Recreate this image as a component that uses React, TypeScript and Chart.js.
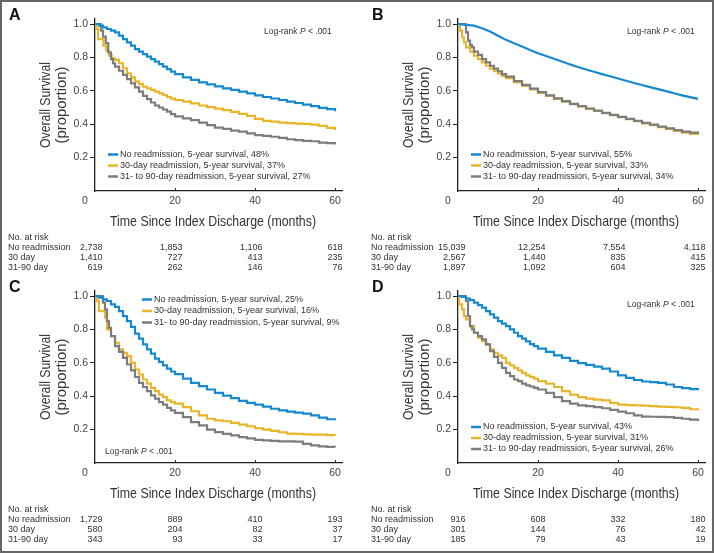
import React, { useEffect, useRef } from 'react';
import { Chart, registerables } from 'chart.js';

Chart.register(...registerables);

// ---------- data ----------
const X_TICKS = [0, 20, 40, 60];
const Y_TICKS = [0.2, 0.4, 0.6, 0.8, 1.0];
const RISK_ROWS = ['No readmission', '30 day', '31-90 day'];
const X_TITLE = 'Time Since Index Discharge (months)';
const Y_TITLE = ['Overall Survival', '(proportion)'];

const A_NONE: [number, number][] = [[0,1],[1,0.99],[2,0.98],[3,0.97],[4,0.96],[5,0.95],[6,0.93],[7,0.91],[8,0.89],[9,0.87],[10,0.85],[11,0.835],[12,0.82],[13,0.805],[14,0.79],[15,0.775],[16,0.76],[17,0.745],[18,0.73],[19,0.715],[20,0.7],[22,0.68],[24,0.665],[26,0.65],[28,0.638],[30,0.626],[32,0.615],[34,0.605],[36,0.595],[38,0.585],[40,0.573],[42,0.563],[44,0.554],[46,0.545],[48,0.535],[50,0.527],[52,0.517],[54,0.508],[56,0.498],[58,0.49],[60,0.478]];
const A_D30: [number, number][] = [[0,1],[0.4,0.97],[0.8,0.91],[2.1,0.87],[2.8,0.84],[3.5,0.81],[4.2,0.795],[5,0.785],[6,0.765],[7,0.735],[8,0.705],[9,0.68],[10,0.655],[11,0.64],[12,0.625],[13,0.615],[14,0.605],[15,0.595],[16,0.585],[17,0.575],[18,0.563],[19,0.553],[20,0.545],[22,0.535],[24,0.525],[26,0.512],[28,0.502],[30,0.493],[32,0.484],[34,0.474],[36,0.462],[38,0.45],[40,0.432],[42,0.42],[44,0.415],[46,0.41],[48,0.406],[50,0.404],[52,0.402],[54,0.398],[56,0.39],[58,0.378],[60,0.366]];
const A_D90: [number, number][] = [[0,1],[1.2,1],[1.5,0.96],[2,0.925],[2.7,0.885],[3.3,0.83],[4,0.79],[4.5,0.765],[5,0.745],[6,0.72],[7,0.695],[8,0.67],[9,0.645],[10,0.62],[11,0.595],[12,0.57],[13,0.55],[14,0.53],[15,0.512],[16,0.5],[17,0.488],[18,0.475],[19,0.46],[20,0.447],[22,0.435],[24,0.425],[26,0.41],[28,0.395],[30,0.38],[32,0.372],[34,0.362],[36,0.355],[38,0.345],[40,0.335],[42,0.33],[44,0.325],[46,0.318],[48,0.31],[50,0.305],[52,0.3],[54,0.298],[56,0.29],[58,0.287],[60,0.278]];

const B_NONE: [number, number][] = [[0,1],[2,0.995],[4,0.99],[6,0.975],[8,0.955],[10,0.93],[12,0.905],[14,0.885],[16,0.865],[18,0.845],[20,0.825],[22,0.808],[24,0.792],[26,0.775],[28,0.758],[30,0.743],[32,0.728],[34,0.714],[36,0.7],[38,0.687],[40,0.674],[42,0.66],[44,0.647],[46,0.635],[48,0.622],[50,0.61],[52,0.598],[54,0.585],[56,0.573],[58,0.562],[60,0.552]];
const B_D30: [number, number][] = [[0,1],[0.5,0.96],[1,0.92],[1.5,0.89],[2,0.86],[3,0.835],[4,0.81],[5,0.79],[6,0.77],[7,0.75],[8,0.733],[9,0.718],[10,0.703],[11,0.69],[12,0.676],[14,0.652],[16,0.63],[18,0.608],[20,0.588],[22,0.57],[24,0.552],[26,0.535],[28,0.52],[30,0.506],[32,0.492],[34,0.479],[36,0.466],[38,0.454],[40,0.442],[42,0.43],[44,0.418],[46,0.405],[48,0.394],[50,0.383],[52,0.372],[54,0.36],[56,0.35],[58,0.342],[60,0.335]];
const B_D90: [number, number][] = [[0,1],[1.8,1],[2,0.95],[2.5,0.9],[3,0.875],[3.5,0.86],[4,0.835],[5,0.815],[6,0.79],[7,0.77],[8,0.75],[9,0.733],[10,0.717],[11,0.7],[12,0.685],[14,0.658],[16,0.635],[18,0.613],[20,0.592],[22,0.573],[24,0.555],[26,0.538],[28,0.522],[30,0.508],[32,0.494],[34,0.481],[36,0.468],[38,0.456],[40,0.444],[42,0.432],[44,0.42],[46,0.408],[48,0.397],[50,0.386],[52,0.375],[54,0.365],[56,0.356],[58,0.349],[60,0.342]];

const C_NONE: [number, number][] = [[0,1],[1,0.99],[2,0.98],[3,0.97],[4,0.95],[5,0.935],[6,0.91],[7,0.88],[8,0.85],[9,0.815],[10,0.775],[11,0.745],[12,0.71],[13,0.68],[14,0.655],[15,0.625],[16,0.605],[17,0.585],[18,0.565],[19,0.548],[20,0.532],[22,0.505],[24,0.48],[26,0.46],[28,0.44],[30,0.42],[32,0.403],[34,0.388],[36,0.372],[38,0.36],[40,0.35],[42,0.338],[44,0.325],[46,0.315],[48,0.308],[50,0.302],[52,0.296],[54,0.285],[56,0.272],[58,0.262],[60,0.256]];
const C_D30: [number, number][] = [[0,1],[0.5,0.97],[1,0.91],[2.5,0.87],[3,0.8],[4,0.76],[5,0.72],[6,0.68],[7,0.66],[8,0.64],[9,0.6],[10,0.56],[11,0.53],[12,0.5],[13,0.475],[14,0.45],[15,0.43],[16,0.41],[17,0.395],[18,0.375],[19,0.365],[20,0.355],[22,0.335],[24,0.31],[26,0.285],[28,0.265],[30,0.255],[32,0.25],[34,0.24],[36,0.23],[38,0.22],[40,0.208],[42,0.2],[44,0.192],[46,0.184],[48,0.176],[50,0.174],[52,0.172],[54,0.17],[56,0.17],[58,0.167],[60,0.165]];
const C_D90: [number, number][] = [[0,1],[1.2,1],[2,0.96],[2.5,0.92],[3,0.85],[3.5,0.81],[4,0.76],[5,0.7],[6,0.665],[7,0.63],[8,0.59],[9,0.555],[10,0.515],[11,0.48],[12,0.455],[13,0.43],[14,0.405],[15,0.385],[16,0.365],[17,0.35],[18,0.33],[19,0.315],[20,0.3],[22,0.275],[24,0.245],[26,0.225],[28,0.2],[30,0.185],[32,0.175],[34,0.165],[36,0.155],[38,0.148],[40,0.138],[42,0.135],[44,0.133],[46,0.13],[48,0.13],[50,0.128],[52,0.115],[54,0.105],[56,0.1],[58,0.097],[60,0.094]];

const D_NONE: [number, number][] = [[0,1],[1,0.995],[2,0.985],[3,0.975],[4,0.96],[5,0.945],[6,0.93],[7,0.91],[8,0.89],[9,0.87],[10,0.85],[11,0.835],[12,0.82],[13,0.8],[14,0.78],[15,0.76],[16,0.745],[17,0.728],[18,0.712],[19,0.7],[20,0.685],[22,0.665],[24,0.645],[26,0.63],[28,0.612],[30,0.598],[32,0.588],[34,0.577],[36,0.565],[38,0.548],[40,0.525],[42,0.51],[44,0.497],[46,0.488],[48,0.484],[50,0.48],[52,0.47],[54,0.455],[56,0.448],[58,0.442],[60,0.435]];
const D_D30: [number, number][] = [[0,1],[0.3,0.95],[1,0.92],[1.5,0.88],[2,0.86],[3,0.82],[4,0.78],[5,0.75],[6,0.73],[7,0.71],[8,0.68],[9,0.66],[10,0.645],[11,0.63],[12,0.6],[13,0.585],[14,0.57],[15,0.555],[16,0.54],[17,0.525],[18,0.515],[19,0.505],[20,0.49],[22,0.475],[24,0.455],[26,0.43],[28,0.41],[30,0.395],[32,0.385],[34,0.38],[36,0.375],[38,0.36],[40,0.35],[42,0.347],[44,0.345],[46,0.343],[48,0.34],[50,0.338],[52,0.336],[54,0.334],[56,0.33],[58,0.322],[60,0.316]];
const D_D90: [number, number][] = [[0,1],[1.8,1],[2,0.97],[2.5,0.88],[3,0.82],[3.5,0.8],[4,0.78],[5,0.76],[6,0.74],[7,0.71],[8,0.67],[9,0.635],[10,0.6],[11,0.57],[12,0.54],[13,0.52],[14,0.5],[15,0.49],[16,0.475],[17,0.465],[18,0.458],[19,0.45],[20,0.44],[22,0.42],[24,0.395],[26,0.37],[28,0.355],[30,0.345],[32,0.34],[34,0.335],[36,0.328],[38,0.318],[40,0.308],[42,0.298],[44,0.285],[46,0.278],[48,0.277],[50,0.276],[52,0.275],[54,0.27],[56,0.265],[58,0.26],[60,0.252]];

const A_RISK = [[2738, 1853, 1106, 618], [1410, 727, 413, 235], [619, 262, 146, 76]];
const B_RISK = [[15039, 12254, 7554, 4118], [2567, 1440, 835, 415], [1897, 1092, 604, 325]];
const C_RISK = [[1729, 889, 410, 193], [580, 204, 82, 37], [343, 93, 33, 17]];
const D_RISK = [[916, 608, 332, 180], [301, 144, 76, 42], [185, 79, 43, 19]];

const A_SURV = [48, 37, 27];
const B_SURV = [55, 33, 34];
const C_SURV = [25, 16, 9];
const D_SURV = [43, 31, 26];

// ---------- style ----------
const COLORS = ['#1689cf', '#e9b52a', '#7d7d7d'];
const FONT = '"Liberation Sans", Arial, sans-serif';
const TEXT = '#333333';
const AXIS = '#222222';

type PanelDef = {
  letter: string;
  series: [number, number][][];
  stepped: boolean[];
  surv: number[];
  risk: number[][];
  legend: { x: number; y: number; dy: number };
  logrank: { x: number; y: number };
};

const PANELS: PanelDef[] = [
  { letter: 'A', series: [A_NONE, A_D30, A_D90], stepped: [true, true, true], surv: A_SURV, risk: A_RISK, legend: { x: 108, y: 154.5, dy: 11 }, logrank: { x: 264, y: 32 } },
  { letter: 'B', series: [B_NONE, B_D30, B_D90], stepped: [false, true, true], surv: B_SURV, risk: B_RISK, legend: { x: 108, y: 154.5, dy: 11 }, logrank: { x: 264, y: 32 } },
  { letter: 'C', series: [C_NONE, C_D30, C_D90], stepped: [true, true, true], surv: C_SURV, risk: C_RISK, legend: { x: 142, y: 27.5, dy: 11.5 }, logrank: { x: 105, y: 180 } },
  { letter: 'D', series: [D_NONE, D_D30, D_D90], stepped: [true, true, true], surv: D_SURV, risk: D_RISK, legend: { x: 108, y: 155, dy: 11 }, logrank: { x: 264, y: 32.5 } },
];

function legendLabel(i: number, pct: number) {
  const names = ['No readmission', '30-day readmission', '31- to 90-day readmission'];
  return `${names[i]}, 5-year survival, ${pct}%`;
}

// draw text condensed to a given length (emulates a condensed typeface)
function fitText(ctx: CanvasRenderingContext2D, text: string, cx: number, cy: number, len: number, rot: number) {
  const w = ctx.measureText(text).width;
  ctx.save();
  ctx.translate(cx, cy);
  ctx.rotate(rot);
  ctx.scale(len / w, 1);
  ctx.textAlign = 'center';
  ctx.textBaseline = 'middle';
  ctx.fillText(text, 0, 0);
  ctx.restore();
}

function Panel({ def, left, top, width, height }: { def: PanelDef; left: number; top: number; width: number; height: number }) {
  const ref = useRef<HTMLCanvasElement>(null);
  useEffect(() => {
    if (!ref.current) return;
    const extras = {
      id: 'extras',
      afterDraw(chart: any) {
        const { ctx } = chart;
        const xs = chart.scales.x;
        const ys = chart.scales.y;
        const area = chart.chartArea;
        ctx.save();
        // panel letter
        ctx.fillStyle = '#111';
        ctx.font = `bold 16px ${FONT}`;
        ctx.textAlign = 'left';
        ctx.textBaseline = 'middle';
        ctx.fillText(def.letter, 9, 16);
        // axis titles
        ctx.fillStyle = TEXT;
        ctx.font = `14.5px ${FONT}`;
        fitText(ctx, X_TITLE, 213, 222, 206, 0);
        const yc = (area.top + area.bottom) / 2;
        fitText(ctx, Y_TITLE[0], 46, yc, 86, -Math.PI / 2);
        fitText(ctx, Y_TITLE[1], 62, yc, 77, -Math.PI / 2);
        // inward x tick marks
        ctx.strokeStyle = AXIS;
        ctx.lineWidth = 1;
        const base = ys.getPixelForValue(0);
        X_TICKS.forEach((t) => {
          if (t === 0) return;
          const px = Math.round(xs.getPixelForValue(t)) + 0.5;
          ctx.beginPath();
          ctx.moveTo(px, base);
          ctx.lineTo(px, base - 3);
          ctx.stroke();
        });
        // "0" label offset left of the axis
        ctx.fillStyle = '#444';
        ctx.font = `10.5px ${FONT}`;
        ctx.textAlign = 'center';
        ctx.fillText('0', xs.getPixelForValue(0) - 10, 201.5);
        // legend
        ctx.font = `9px ${FONT}`;
        ctx.textAlign = 'left';
        def.surv.forEach((p, i) => {
          const y = def.legend.y + i * def.legend.dy;
          ctx.strokeStyle = COLORS[i];
          ctx.lineWidth = 2.5;
          ctx.beginPath();
          ctx.moveTo(def.legend.x, y);
          ctx.lineTo(def.legend.x + 10, y);
          ctx.stroke();
          ctx.fillStyle = TEXT;
          ctx.fillText(legendLabel(i, p), def.legend.x + 12, y);
        });
        // log-rank
        ctx.fillStyle = TEXT;
        ctx.font = `8.5px ${FONT}`;
        let lx = def.logrank.x;
        const s1 = 'Log-rank ';
        ctx.fillText(s1, lx, def.logrank.y);
        lx += ctx.measureText(s1).width;
        ctx.font = `italic 8.5px ${FONT}`;
        ctx.fillText('P', lx, def.logrank.y);
        lx += ctx.measureText('P').width;
        ctx.font = `8.5px ${FONT}`;
        ctx.fillText(' < .001', lx, def.logrank.y);
        // risk table
        ctx.font = `9px ${FONT}`;
        ctx.fillStyle = TEXT;
        ctx.textAlign = 'left';
        ctx.fillText('No. at risk', 8, 237.3);
        RISK_ROWS.forEach((name, r) => {
          const y = 247.3 + r * 10;
          ctx.textAlign = 'left';
          ctx.fillText(name, 8, y);
          ctx.textAlign = 'right';
          def.risk[r].forEach((n, k) => {
            ctx.fillText(n.toLocaleString('en-US'), xs.getPixelForValue(X_TICKS[k]) + 7.5, y);
          });
        });
        ctx.restore();
      },
    };

    const chart = new Chart(ref.current, {
      type: 'line',
      data: {
        datasets: [0, 2, 1].map((i) => ({
          label: legendLabel(i, def.surv[i]),
          data: def.series[i].map(([t, s]) => ({ x: t, y: s })),
          borderColor: COLORS[i],
          borderWidth: 2.2,
          pointRadius: 0,
          stepped: def.stepped[i],
          tension: 0,
          fill: false,
        })),
      },
      options: {
        responsive: false,
        animation: false,
        events: [],
        layout: { padding: { left: 0, top: 19, right: width - 342, bottom: height - 231 } },
        plugins: { legend: { display: false }, tooltip: { enabled: false } },
        scales: {
          x: {
            type: 'linear',
            min: 0,
            max: 61.75,
            afterBuildTicks: (s: any) => { s.ticks = X_TICKS.map((v) => ({ value: v })); },
            afterFit: (s: any) => { s.height = 40; },
            ticks: {
              callback: (v: any) => (v === 0 ? '' : String(v)),
              font: { family: FONT, size: 10.5 },
              color: '#444',
              padding: 4,
              maxRotation: 0,
              autoSkip: false,
            },
            grid: { display: false, drawTicks: false },
            border: { display: true, color: AXIS, width: 1.3 },
            title: { display: false },
          },
          y: {
            type: 'linear',
            min: 0,
            max: 1.03,
            afterBuildTicks: (s: any) => { s.ticks = Y_TICKS.map((v) => ({ value: v })); },
            afterFit: (s: any) => { s.width = 95; },
            ticks: {
              callback: (v: any) => Number(v).toFixed(1),
              font: { family: FONT, size: 10.5 },
              color: '#444',
              padding: 2,
            },
            grid: { drawOnChartArea: false, drawTicks: true, tickLength: 5, color: AXIS, lineWidth: 1 },
            border: { display: true, color: AXIS, width: 1.3 },
            title: { display: false },
          },
        },
      } as any,
      plugins: [extras],
    });
    return () => chart.destroy();
  }, [def, width, height]);

  return (
    <div style={{ position: 'absolute', left, top, width, height }}>
      <canvas ref={ref} width={width} height={height} style={{ display: 'block', width, height }} />
    </div>
  );
}

export default function App() {
  return (
    <div style={{ position: 'absolute', left: 0, top: 0, width: 714, height: 553, background: '#fff', overflow: 'hidden' }}>
      <Panel def={PANELS[0]} left={0} top={0} width={360} height={272} />
      <Panel def={PANELS[1]} left={363} top={0} width={350} height={272} />
      <Panel def={PANELS[2]} left={0} top={272} width={360} height={278} />
      <Panel def={PANELS[3]} left={363} top={272} width={350} height={278} />
      <div style={{ position: 'absolute', left: 0, top: 0, width: 714, height: 553, boxSizing: 'border-box', border: '2px solid #666', pointerEvents: 'none' }} />
    </div>
  );
}
